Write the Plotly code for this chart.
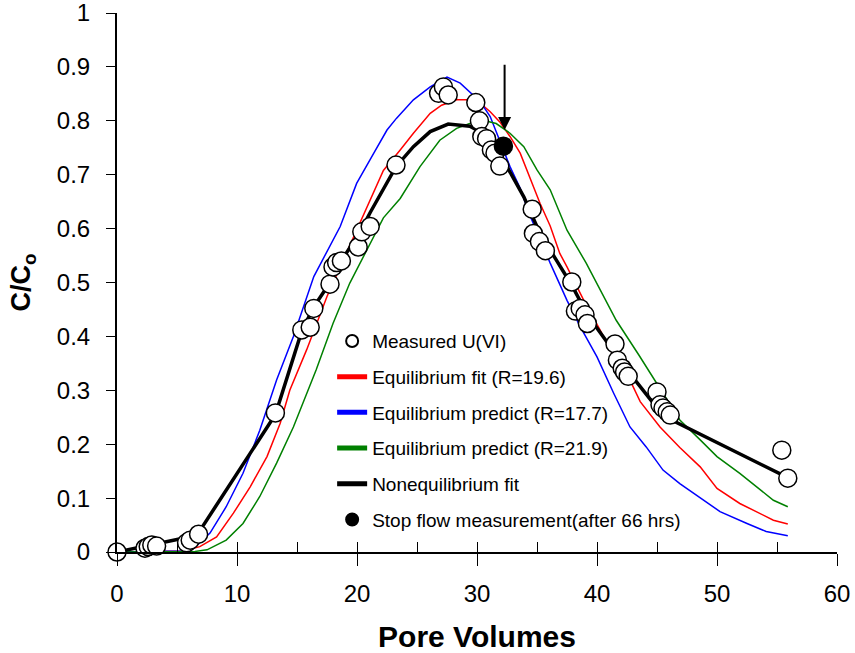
import plotly.graph_objects as go

# Measured U(VI)
meas_x = [0, 2.33, 2.6, 2.9, 3.3, 5.8, 6.1, 6.8, 13.2, 15.4, 16.1, 16.4, 17.75, 18.0, 18.3, 18.7,
          20.1, 20.4, 21.1, 23.25, 26.8, 27.2, 27.6, 29.9, 30.2, 30.4, 30.8, 31.2, 31.5, 31.9,
          34.6, 34.7, 35.2, 35.7, 37.9, 38.2, 38.6, 39.0, 39.2, 41.5, 41.7, 42.1, 42.3, 42.6,
          45.0, 45.25, 45.5, 45.85, 46.1, 55.4, 55.9]
meas_y = [0, 0.007, 0.010, 0.013, 0.011, 0.017, 0.022, 0.033, 0.258, 0.412, 0.417, 0.452, 0.497,
          0.529, 0.537, 0.540, 0.566, 0.594, 0.604, 0.718, 0.851, 0.863, 0.848, 0.834, 0.800,
          0.771, 0.767, 0.746, 0.740, 0.716, 0.636, 0.591, 0.576, 0.559, 0.501, 0.447, 0.452,
          0.440, 0.424, 0.386, 0.356, 0.341, 0.334, 0.326, 0.297, 0.273, 0.267, 0.260, 0.254,
          0.189, 0.137]

# Stop flow measurement
stop_x = [32.2]
stop_y = [0.753]

# Equilibrium fit (R=19.6)
red_x = [0, 5.5, 6.9, 8.3, 9.7, 11.1, 12.5, 13.6, 14.4, 15.8, 17.5, 19.1, 21.1, 22.2, 23.6, 24.7,
         26.1, 27.05, 28.3, 29.1, 30.25, 31.1, 31.9, 32.75, 33.6, 34.4, 35.25, 36.1, 36.9, 37.5,
         38.9, 40.25, 41.1, 42.75, 43.6, 45.25, 46.9, 48.6, 50.0, 51.9, 54.7, 55.9]
red_y = [0, 0.002, 0.01, 0.028, 0.072, 0.121, 0.177, 0.239, 0.30, 0.375, 0.474, 0.554, 0.653,
         0.708, 0.746, 0.777, 0.814, 0.829, 0.839, 0.839, 0.833, 0.817, 0.798, 0.771, 0.740,
         0.696, 0.647, 0.605, 0.554, 0.529, 0.467, 0.412, 0.375, 0.319, 0.279, 0.232, 0.194,
         0.158, 0.118, 0.090, 0.059, 0.052]

# Equilibrium predict (R=17.7)
blue_x = [0, 5.5, 6.4, 7.75, 9.1, 10.5, 11.9, 13.3, 14.7, 16.4, 18.6, 19.97, 21.4, 22.5, 23.3,
          24.7, 26.1, 27.5, 28.6, 29.4, 30.25, 31.1, 31.9, 32.75, 33.6, 34.4, 36.1, 37.5, 38.6,
          40.0, 41.4, 42.75, 44.1, 45.5, 46.9, 49.1, 50.25, 52.5, 54.1, 55.9]
blue_y = [0, 0.002, 0.007, 0.035, 0.084, 0.146, 0.226, 0.319, 0.40, 0.511, 0.604, 0.684, 0.740,
          0.783, 0.805, 0.839, 0.863, 0.881, 0.870, 0.854, 0.836, 0.808, 0.764, 0.715, 0.675,
          0.625, 0.536, 0.467, 0.418, 0.362, 0.294, 0.232, 0.195, 0.152, 0.127, 0.093, 0.075,
          0.053, 0.038, 0.030]

# Equilibrium predict (R=21.9)
green_x = [0, 6.5, 7.5, 9.1, 10.5, 11.9, 13.3, 14.7, 16.6, 18.0, 19.4, 20.8, 22.2, 23.6, 25.25,
           26.9, 28.3, 29.4, 30.5, 31.6, 32.75, 33.9, 35.0, 36.1, 37.5, 39.1, 40.25, 41.6, 43.5,
           45.0, 46.9, 48.6, 50.0, 51.9, 54.7, 55.9]
green_y = [0, 0.001, 0.004, 0.022, 0.053, 0.103, 0.165, 0.232, 0.338, 0.424, 0.499, 0.560, 0.620,
           0.656, 0.715, 0.764, 0.786, 0.795, 0.801, 0.795, 0.777, 0.752, 0.709, 0.672, 0.597,
           0.536, 0.486, 0.430, 0.365, 0.313, 0.245, 0.208, 0.177, 0.146, 0.096, 0.084]

# Nonequilibrium fit
neq_x = [0, 2.6, 5.8, 6.8, 13.2, 15.4, 16.4, 17.75, 18.7, 20.4, 21.1, 23.25, 24.7, 26.1, 27.6,
         29.4, 30.25, 31.4, 32.5, 33.9, 35.25, 36.6, 37.9, 39.2, 41.5, 42.6, 44.7, 46.1, 55.9]
neq_y = [0, 0.012, 0.027, 0.036, 0.255, 0.41, 0.455, 0.50, 0.54, 0.60, 0.63, 0.715, 0.752, 0.780,
         0.794, 0.790, 0.780, 0.752, 0.715, 0.659, 0.591, 0.542, 0.495, 0.44, 0.368, 0.335,
         0.276, 0.246, 0.138]

# Arrow (tail, head)
arrow_x = 32.3
arrow_tail_y = 0.907
arrow_head_y = 0.783

FONT = "Liberation Sans, Arial, sans-serif"

fig = go.Figure()

fig.add_trace(go.Scatter(x=red_x, y=red_y, mode="lines", name="Equilibrium fit (R=19.6)",
                         line=dict(color="#ff0000", width=1.5), legendrank=2, legendgroup="b",
                         cliponaxis=False))
fig.add_trace(go.Scatter(x=blue_x, y=blue_y, mode="lines", name="Equilibrium predict (R=17.7)",
                         line=dict(color="#0000ff", width=1.5), legendrank=3, legendgroup="c",
                         cliponaxis=False))
fig.add_trace(go.Scatter(x=green_x, y=green_y, mode="lines", name="Equilibrium predict (R=21.9)",
                         line=dict(color="#008000", width=1.5), legendrank=4, legendgroup="d",
                         cliponaxis=False))
fig.add_trace(go.Scatter(x=neq_x, y=neq_y, mode="lines", name="Nonequilibrium fit",
                         line=dict(color="#000000", width=3.5), legendrank=5, legendgroup="e",
                         cliponaxis=False))
fig.add_trace(go.Scatter(x=meas_x, y=meas_y, mode="markers", name="Measured U(VI)",
                         marker=dict(symbol="circle", size=18, color="white",
                                     line=dict(color="black", width=1.5)),
                         legendrank=1, legendgroup="a", cliponaxis=False))
fig.add_trace(go.Scatter(x=stop_x, y=stop_y, mode="markers",
                         name="Stop flow measurement(after 66 hrs)",
                         marker=dict(symbol="circle", size=18, color="black",
                                     line=dict(color="black", width=1.5)),
                         legendrank=6, legendgroup="f", cliponaxis=False))
# overlay axis for inside ticks
fig.add_trace(go.Scatter(x=[], y=[], xaxis="x2", showlegend=False, hoverinfo="skip"))

fig.add_annotation(x=arrow_x, y=arrow_head_y, ax=arrow_x, ay=arrow_tail_y, xref="x", yref="y",
                   axref="x", ayref="y", showarrow=True, arrowhead=2, arrowsize=1.3,
                   arrowwidth=2, arrowcolor="black", text="")

fig.update_layout(
    width=855, height=653,
    margin=dict(l=117, r=18, t=13, b=101),
    paper_bgcolor="white", plot_bgcolor="white",
    font=dict(family=FONT, color="black"),
    showlegend=True,
    legend=dict(x=0.2988, y=0.4265, xanchor="left", yanchor="top", bgcolor="rgba(0,0,0,0)",
                font=dict(size=19, family=FONT), tracegroupgap=8, itemsizing="constant",
                traceorder="grouped"),
    xaxis=dict(range=[0, 60], dtick=10, tick0=0, showgrid=False, zeroline=False,
               showline=True, linecolor="black", linewidth=2, ticks="outside", ticklen=12,
               tickwidth=1.2, tickcolor="black", automargin=False, ticklabeloverflow="allow",
               tickfont=dict(size=24, family=FONT),
               ticklabelstandoff=7,
               title=dict(text="<b>Pore Volumes</b>", font=dict(size=30, family=FONT), standoff=21)),
    xaxis2=dict(range=[0, 60], dtick=5, tick0=0, overlaying="x", anchor="y", side="bottom",
                showgrid=False, zeroline=False, showline=False, ticks="inside", ticklen=10,
                tickwidth=1.2, tickcolor="black", showticklabels=False, automargin=False),
    yaxis=dict(range=[0, 1.0001], dtick=0.1, tick0=0, showgrid=False, zeroline=False,
               showline=True, linecolor="black", linewidth=2, ticks="outside", ticklen=9,
               tickwidth=1.2, tickcolor="black", tickfont=dict(size=24, family=FONT),
               ticklabelstandoff=11, automargin=False, ticklabeloverflow="allow",
               title=dict(text="<b>C/C<sub>o</sub></b>", font=dict(size=27, family=FONT),
                          standoff=18)),
)

fig.write_html("out.html", config={"displayModeBar": False},
               post_script="document.body.style.margin='0';document.body.style.padding='0';")
